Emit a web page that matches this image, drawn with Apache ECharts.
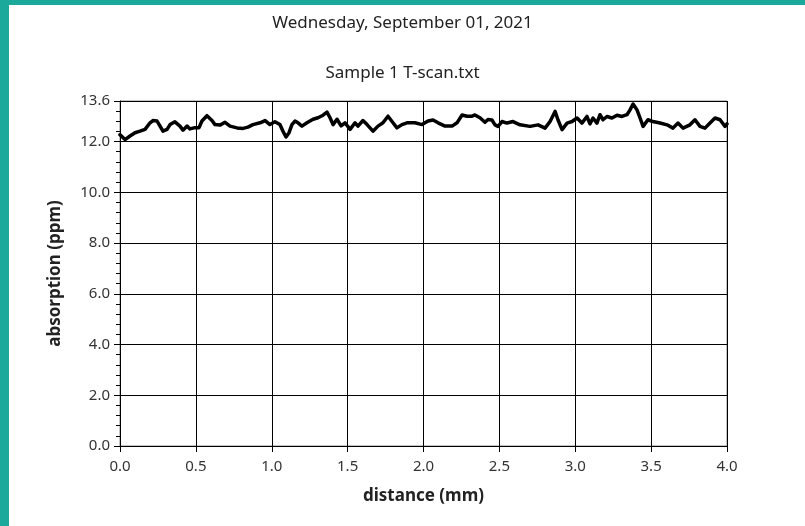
<!DOCTYPE html>
<html>
<head>
<meta charset="utf-8">
<script src="https://cdn.jsdelivr.net/npm/echarts@6/dist/echarts.min.js"></script>
<style>
  html, body { margin: 0; padding: 0; width: 805px; height: 526px; background: #1aa99b; overflow: hidden; }
  #frame { position: absolute; left: 9px; top: 5px; right: 0; bottom: 0; background: #ffffff; }
  #chart { position: absolute; left: 0; top: 0; width: 805px; height: 526px; }
</style>
</head>
<body>
<div id="frame"></div>
<div id="chart"></div>
<script>
const titleText = 'Wednesday, September 01, 2021';
const subtitleText = 'Sample 1 T-scan.txt';
const xAxisName = 'distance (mm)';
const yAxisName = 'absorption (ppm)';

const distance = [
  0.000, 0.033, 0.066, 0.099, 0.132, 0.165, 0.198, 0.217, 0.244, 0.264,
  0.283, 0.310, 0.330, 0.362, 0.395, 0.415, 0.442, 0.461, 0.494, 0.521,
  0.540, 0.573, 0.606, 0.626, 0.659, 0.692, 0.725, 0.771, 0.811, 0.843,
  0.876, 0.923, 0.956, 0.988, 1.021, 1.054, 1.074, 1.094, 1.114, 1.133,
  1.153, 1.173, 1.199, 1.232, 1.272, 1.305, 1.338, 1.364, 1.384, 1.404,
  1.430, 1.457, 1.483, 1.516, 1.549, 1.568, 1.601, 1.628, 1.667, 1.700,
  1.733, 1.766, 1.799, 1.825, 1.858, 1.891, 1.944, 1.990, 2.030, 2.063,
  2.096, 2.142, 2.188, 2.221, 2.254, 2.287, 2.320, 2.339, 2.372, 2.405,
  2.425, 2.451, 2.471, 2.491, 2.517, 2.550, 2.590, 2.636, 2.702, 2.755,
  2.801, 2.834, 2.867, 2.886, 2.913, 2.946, 2.979, 3.012, 3.044, 3.077,
  3.097, 3.117, 3.143, 3.163, 3.183, 3.209, 3.242, 3.275, 3.308, 3.341,
  3.361, 3.381, 3.407, 3.427, 3.447, 3.479, 3.512, 3.559, 3.605, 3.644,
  3.677, 3.710, 3.756, 3.789, 3.822, 3.855, 3.888, 3.921, 3.954, 3.987,
  4.000
];
const absorption = [
  12.27, 12.08, 12.22, 12.35, 12.41, 12.48, 12.74, 12.83, 12.81, 12.61,
  12.41, 12.48, 12.67, 12.78, 12.61, 12.45, 12.61, 12.50, 12.55, 12.55,
  12.81, 13.02, 12.83, 12.67, 12.65, 12.76, 12.61, 12.54, 12.52, 12.57,
  12.67, 12.74, 12.83, 12.67, 12.78, 12.67, 12.41, 12.18, 12.35, 12.67,
  12.81, 12.74, 12.61, 12.74, 12.88, 12.94, 13.04, 13.16, 12.94, 12.67,
  12.88, 12.62, 12.74, 12.48, 12.74, 12.61, 12.83, 12.67, 12.41, 12.61,
  12.74, 13.00, 12.74, 12.54, 12.67, 12.74, 12.74, 12.67, 12.81, 12.85,
  12.74, 12.61, 12.61, 12.74, 13.05, 13.00, 13.00, 13.05, 12.94, 12.76,
  12.87, 12.85, 12.66, 12.60, 12.79, 12.73, 12.79, 12.66, 12.60, 12.66,
  12.53, 12.79, 13.19, 12.86, 12.47, 12.73, 12.79, 12.93, 12.73, 12.99,
  12.70, 12.93, 12.73, 13.06, 12.86, 12.99, 12.93, 13.04, 12.99, 13.06,
  13.25, 13.48, 13.25, 12.93, 12.60, 12.86, 12.79, 12.73, 12.66, 12.53,
  12.73, 12.53, 12.66, 12.86, 12.60, 12.53, 12.73, 12.93, 12.86, 12.60,
  12.70
];
const xMin = 0, xMax = 4.0, xStep = 0.5;
const yMin = 0, yMax = 13.6, yStep = 2;

const chart = echarts.init(document.getElementById('chart'), null, { renderer: 'canvas' });
const font = '"Noto Sans", "Open Sans", sans-serif';

chart.setOption({
  backgroundColor: 'transparent',
  animation: false,
  title: [
    { text: titleText, left: 'center', top: 10, textStyle: { fontFamily: font, fontSize: 17, fontWeight: 'normal', color: '#222' } },
    { text: subtitleText, left: 'center', top: 60, textStyle: { fontFamily: font, fontSize: 17, fontWeight: 'normal', color: '#222' } }
  ],
  grid: { left: 120, right: 78, top: 101, bottom: 80, show: true, borderColor: '#888', borderWidth: 1, backgroundColor: 'transparent' },
  xAxis: {
    type: 'value', min: xMin, max: xMax, interval: xStep,
    name: xAxisName, nameLocation: 'middle', nameGap: 42,
    nameTextStyle: { fontFamily: font, fontSize: 17, fontWeight: 'bold', color: '#222' },
    axisLine: { show: true, lineStyle: { color: '#000', width: 1 } },
    axisTick: { show: true, inside: false, length: 6, lineStyle: { color: '#000' } },
    axisLabel: { margin: 13, fontFamily: font, fontSize: 15, color: '#333', formatter: v => v.toFixed(1) },
    splitLine: { show: true, lineStyle: { color: '#000', width: 1 } }
  },
  yAxis: {
    type: 'value', min: yMin, max: yMax, interval: yStep,
    name: yAxisName, nameLocation: 'middle', nameGap: 56,
    nameTextStyle: { fontFamily: font, fontSize: 17, fontWeight: 'bold', color: '#222' },
    axisLine: { show: true, lineStyle: { color: '#000', width: 1 } },
    axisTick: { show: true, inside: false, length: 6, lineStyle: { color: '#000' } },
    minorTick: { show: true, splitNumber: 5, length: 4, lineStyle: { color: '#000' } },
    axisLabel: { margin: 10, fontFamily: font, fontSize: 15, color: '#333', showMaxLabel: true, formatter: v => v.toFixed(1) },
    splitLine: { show: true, lineStyle: { color: '#000', width: 1 } }
  },
  series: [{
    type: 'line',
    data: distance.map((d, i) => [d, absorption[i]]),
    showSymbol: false,
    symbol: 'none',
    lineStyle: { color: '#000', width: 3.5, join: 'round', cap: 'round' },
    clip: true
  }]
});
</script>
</body>
</html>
